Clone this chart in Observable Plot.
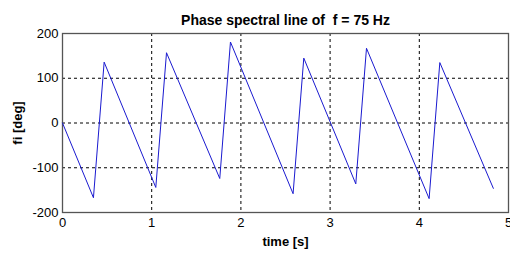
<!DOCTYPE html>
<html>
<head>
<meta charset="utf-8">
<script src="https://cdn.jsdelivr.net/npm/d3@7"></script>
<script src="https://cdn.jsdelivr.net/npm/@observablehq/plot@0.6"></script>
<style>
  html, body { margin: 0; padding: 0; background: #fff; }
  svg { font-family: "Liberation Sans", Arial, sans-serif; }
  g[aria-label="x-axis label"] text, g[aria-label="y-axis label"] text { font-weight: bold; font-size: 13px; }
</style>
</head>
<body>
<div id="chart"></div>
<script>
const title = "Phase spectral line of  f = 75 Hz";
const xLabel = "time [s]";
const yLabel = "fi [deg]";
const time = [0, 0.347, 0.467, 1.046, 1.166, 1.763, 1.883, 2.585, 2.705, 3.288, 3.408, 4.110, 4.230, 4.830];
const phase = [0, -167, 136, -144, 157, -124, 181, -158, 145, -136, 167, -169, 135, -146];
const xTicks = [0, 1, 2, 3, 4, 5];
const yTicks = [-200, -100, 0, 100, 200];
const xGrid = [1, 2, 3, 4];
const yGrid = [-100, 0, 100];

const data = time.map((t, i) => ({t, v: phase[i]}));

const chart = Plot.plot({
  width: 510,
  height: 253,
  marginLeft: 62,
  marginRight: 2,
  marginTop: 33,
  marginBottom: 41,
  style: {fontSize: "13px", fontFamily: "Liberation Sans, Arial, sans-serif", color: "#000", background: "#fff"},
  x: {domain: [0, 5]},
  y: {domain: [-200, 200]},
  marks: [
    Plot.ruleX(xGrid, {stroke: "#000", strokeDasharray: "3,3", strokeWidth: 1}),
    Plot.ruleY(yGrid, {stroke: "#000", strokeDasharray: "3,3", strokeWidth: 1}),
    Plot.frame({stroke: "#555", strokeWidth: 1.3}),
    Plot.axisX({ticks: xTicks, tickFormat: d => String(d), tickSize: 0, tickPadding: 5, label: xLabel, labelAnchor: "center", labelArrow: "none", labelOffset: 33}),
    Plot.axisY({ticks: yTicks, tickFormat: d => String(d), tickSize: 0, tickPadding: 4, label: yLabel, labelAnchor: "center", labelArrow: "none", labelOffset: 50}),
    Plot.line(data, {x: "t", y: "v", stroke: "#1a1ad0", strokeWidth: 1}),
    Plot.text([title], {frameAnchor: "top", dy: -18, fontWeight: "bold", fontSize: 14, fill: "#000"})
  ]
});
document.getElementById("chart").appendChild(chart);
</script>
</body>
</html>
